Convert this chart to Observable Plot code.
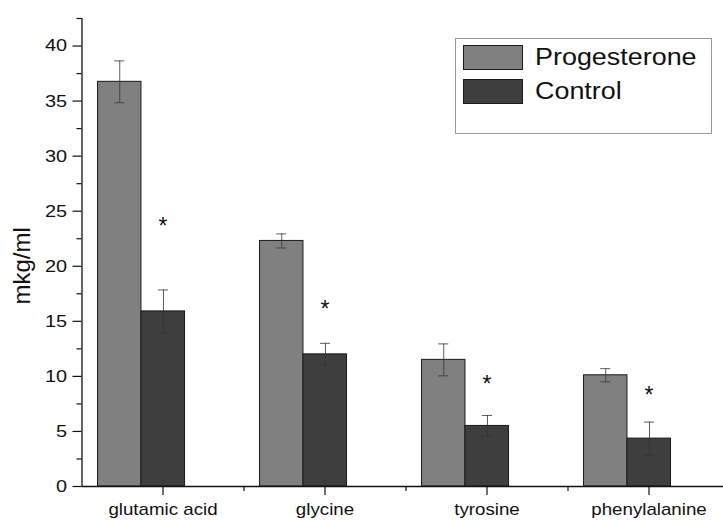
<!DOCTYPE html>
<html>
<head>
<meta charset="utf-8">
<script src="https://cdn.jsdelivr.net/npm/d3@7"></script>
<script src="https://cdn.jsdelivr.net/npm/@observablehq/plot@0.6"></script>
<style>
  html, body { margin: 0; padding: 0; background: #fff; }
  #wrap { position: relative; width: 723px; height: 520px; overflow: hidden; font-family: "Liberation Sans", Arial, sans-serif; }
  #legend { position: absolute; left: 455px; top: 38px; width: 257px; height: 96px; border: 1px solid #9a9a9a; box-sizing: border-box; }
  .sw { position: absolute; left: 7px; width: 60px; height: 25px; box-sizing: border-box; border: 1px solid #1a1a1a; }
  .lt { position: absolute; left: 79px; height: 25px; line-height: 25px; font-size: 23px; color: #111; white-space: nowrap; transform: scaleX(1.17); transform-origin: left center; }
</style>
</head>
<body>
<div id="wrap"></div>
<script>
const categories = ["glutamic acid", "glycine", "tyrosine", "phenylalanine"];
const progesterone = [36.75, 22.3, 11.5, 10.1];
const progesteroneErr = [1.9, 0.64, 1.45, 0.6];
const control = [15.9, 12.0, 5.5, 4.35];
const controlErr = [1.95, 1.0, 0.95, 1.5];
const starY = [24.1, 16.6, 9.8, 8.8];
const yTicks = [0, 5, 10, 15, 20, 25, 30, 35, 40];
const yMinorTicks = [2.5, 7.5, 12.5, 17.5, 22.5, 27.5, 32.5, 37.5, 42.5];
const seriesNames = ["Progesterone", "Control"];
const seriesColors = ["#808080", "#3e3e3e"];

const rows = categories.map((c, i) => ({
  i, cat: c,
  prog: progesterone[i], progErr: progesteroneErr[i],
  ctrl: control[i], ctrlErr: controlErr[i],
  star: starY[i]
}));

// layout offsets within each category slot (slot = 1 unit)
const P0 = 0.099, P1 = 0.367, C1 = 0.636, PX = 0.233, CX = 0.503, CAP = 0.031;

const chart = Plot.plot({
  width: 723,
  height: 520,
  marginLeft: 81.5,
  marginRight: 0,
  marginTop: 18,
  marginBottom: 34,
  style: { fontFamily: "Liberation Sans, Arial, sans-serif", fontSize: "17px", color: "#111", background: "white" },
  x: { type: "linear", domain: [0, 4], range: [81.5, 729.5] },
  y: { domain: [0, 42.5] },
  marks: [
    Plot.rectY(rows, { x1: d => d.i + P0, x2: d => d.i + P1, y1: 0, y2: "prog", fill: seriesColors[0], stroke: "#1a1a1a", strokeWidth: 1 }),
    Plot.rectY(rows, { x1: d => d.i + P1, x2: d => d.i + C1, y1: 0, y2: "ctrl", fill: seriesColors[1], stroke: "#1a1a1a", strokeWidth: 1 }),
    Plot.ruleX(rows, { x: d => d.i + PX, y1: d => d.prog - d.progErr, y2: d => d.prog + d.progErr, stroke: "#333", strokeWidth: 0.8 }),
    Plot.ruleY(rows, { y: d => d.prog + d.progErr, x1: d => d.i + PX - CAP, x2: d => d.i + PX + CAP, stroke: "#333", strokeWidth: 0.8 }),
    Plot.ruleY(rows, { y: d => d.prog - d.progErr, x1: d => d.i + PX - CAP, x2: d => d.i + PX + CAP, stroke: "#333", strokeWidth: 0.8 }),
    Plot.ruleX(rows, { x: d => d.i + CX, y1: d => d.ctrl - d.ctrlErr, y2: d => d.ctrl + d.ctrlErr, stroke: "#333", strokeWidth: 0.8 }),
    Plot.ruleY(rows, { y: d => d.ctrl + d.ctrlErr, x1: d => d.i + CX - CAP, x2: d => d.i + CX + CAP, stroke: "#333", strokeWidth: 0.8 }),
    Plot.ruleY(rows, { y: d => d.ctrl - d.ctrlErr, x1: d => d.i + CX - CAP, x2: d => d.i + CX + CAP, stroke: "#333", strokeWidth: 0.8 }),
    Plot.text(rows, { x: d => d.i + 0.5, y: "star", text: () => "*", fontSize: 23, dy: 6, fill: "#111" }),
    Plot.ruleX([0], { stroke: "#111", strokeWidth: 1.3 }),
    Plot.ruleY([0], { stroke: "#111", strokeWidth: 1.3 }),
    Plot.axisY({ ticks: yTicks, tickSize: 9, tickPadding: 6, fontSize: 17, label: null, strokeWidth: 1.2 }),
    Plot.axisY({ ticks: yMinorTicks, tickSize: 5, tickFormat: () => "", label: null, strokeWidth: 1.2 }),
    Plot.axisX({ ticks: [0.5, 1.5, 2.5, 3.5], tickSize: 9, tickPadding: 8, fontSize: 16, label: null, strokeWidth: 1.2,
                 tickFormat: d => categories[Math.floor(d)] }),
    Plot.axisX({ ticks: [1, 2, 3], tickSize: 5, tickFormat: () => "", label: null, strokeWidth: 1.2 }),
    Plot.text(["mkg/ml"], { frameAnchor: "left", rotate: -90, dx: -59.5, dy: 52, fontSize: 24, fill: "#111" })
  ]
});

chart.querySelectorAll('g[aria-label="y-axis tick label"] text, g[aria-label="x-axis tick label"] text').forEach(t => {
  t.setAttribute("transform", (t.getAttribute("transform") || "") + " scale(1.17,1)");
});

const wrap = document.getElementById("wrap");
wrap.appendChild(chart);

const legend = document.createElement("div");
legend.id = "legend";
seriesNames.forEach((name, k) => {
  const top = k === 0 ? 6 : 40;
  const sw = document.createElement("div");
  sw.className = "sw";
  sw.style.top = top + "px";
  sw.style.background = seriesColors[k];
  const lt = document.createElement("div");
  lt.className = "lt";
  lt.style.top = top + "px";
  lt.textContent = name;
  legend.appendChild(sw);
  legend.appendChild(lt);
});
wrap.appendChild(legend);
</script>
</body>
</html>
